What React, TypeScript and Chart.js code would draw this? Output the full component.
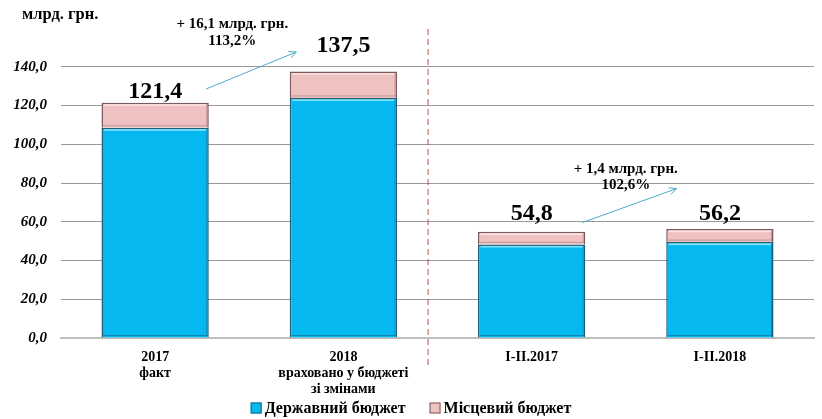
import React, { useEffect, useRef } from "react";
import { Chart, registerables } from "chart.js";

Chart.register(...registerables);

const categories: string[][] = [
  ["2017", "факт"],
  ["2018", "враховано у бюджеті", "зі змінами"],
  ["І-ІІ.2017"],
  ["І-ІІ.2018"],
];
const stateBudget = [108.5, 123.9, 48.3, 49.5];
const localBudget = [12.9, 13.6, 6.5, 6.7];
const seriesNames = ["Державний бюджет", "Місцевий бюджет"];
const seriesColors = ["#05B9F0", "#EFC1C0"];
const seriesBorders = ["#1D5F7C", "#7A5A5A"];
const seriesLight = ["rgba(150,232,255,0.9)", "rgba(255,232,232,0.9)"];
const seriesDark = ["rgba(20,90,125,0.5)", "rgba(140,100,100,0.45)"];
const unitLabel = "млрд. грн.";
const growthNotes = [
  ["+ 16,1 млрд. грн.", "113,2%"],
  ["+ 1,4 млрд. грн.", "102,6%"],
];

const SERIF = "'Liberation Serif', 'Times New Roman', serif";
const fmt = (v: number) => v.toFixed(1).replace(".", ",");

const bevel = {
  id: "bevel",
  afterDatasetsDraw(chart: any) {
    const { ctx } = chart;
    ctx.save();
    chart.data.datasets.forEach((_: any, di: number) => {
      const meta = chart.getDatasetMeta(di);
      meta.data.forEach((bar: any) => {
        const { x, y, base, width } = bar.getProps(["x", "y", "base", "width"], true);
        const l = x - width / 2 + 1.5;
        const r = x + width / 2 - 1.5;
        const t = Math.min(y, base) + 1.5;
        const b = Math.max(y, base) - 1.5;
        ctx.fillStyle = seriesLight[di];
        ctx.fillRect(l + 1, t, r - l - 2, 1.5);
        ctx.fillStyle = seriesDark[di];
        ctx.fillRect(r - 1, t, 1, b - t);
        ctx.fillRect(l, b - 1, r - l, 1);
      });
    });
    ctx.restore();
  },
};

const overlay = {
  id: "overlay",
  afterDatasetsDraw(chart: any) {
    const { ctx, scales } = chart;
    const x = scales.x;
    const y = scales.y;
    const area = chart.chartArea;
    ctx.save();

    // divider
    ctx.strokeStyle = "#C0504D";
    ctx.lineWidth = 1;
    ctx.setLineDash([6, 4]);
    const dx = x.getPixelForValue(1.45);
    ctx.beginPath();
    ctx.moveTo(dx, area.top + 1);
    ctx.lineTo(dx, area.bottom + 27);
    ctx.stroke();
    ctx.setLineDash([]);

    // totals
    const gaps = [5, 20, 12, 9];
    ctx.fillStyle = "#000";
    ctx.font = `bold 24px ${SERIF}`;
    ctx.textAlign = "center";
    ctx.textBaseline = "alphabetic";
    stateBudget.forEach((s, i) => {
      const total = s + localBudget[i];
      ctx.fillText(fmt(total), x.getPixelForValue(i), y.getPixelForValue(total) - gaps[i]);
    });

    // unit
    ctx.font = `bold 16.5px ${SERIF}`;
    ctx.textAlign = "left";
    ctx.textBaseline = "middle";
    ctx.fillText(unitLabel, 22, 15);

    // growth notes
    ctx.font = `bold 15px ${SERIF}`;
    ctx.textAlign = "center";
    const notePos = [
      [0.41, 161.8, 153.2],
      [2.5, 87.4, 78.7],
    ];
    growthNotes.forEach((n, k) => {
      const px = x.getPixelForValue(notePos[k][0]);
      ctx.fillText(n[0], px, y.getPixelForValue(notePos[k][1]));
      ctx.fillText(n[1], px, y.getPixelForValue(notePos[k][2]));
    });

    // arrows
    const arrows = [
      [0.27, 128.5, 0.75, 147.6],
      [2.27, 59.6, 2.77, 77.1],
    ];
    ctx.strokeStyle = "#4BACC6";
    ctx.lineWidth = 1;
    arrows.forEach((a) => {
      const x1 = x.getPixelForValue(a[0]);
      const y1 = y.getPixelForValue(a[1]);
      const x2 = x.getPixelForValue(a[2]);
      const y2 = y.getPixelForValue(a[3]);
      ctx.beginPath();
      ctx.moveTo(x1, y1);
      ctx.lineTo(x2, y2);
      const ang = Math.atan2(y2 - y1, x2 - x1);
      const L = 8;
      ctx.moveTo(x2 - L * Math.cos(ang - 0.45), y2 - L * Math.sin(ang - 0.45));
      ctx.lineTo(x2, y2);
      ctx.lineTo(x2 - L * Math.cos(ang + 0.45), y2 - L * Math.sin(ang + 0.45));
      ctx.stroke();
    });

    // legend
    ctx.font = `bold 16px ${SERIF}`;
    ctx.textAlign = "left";
    ctx.textBaseline = "middle";
    const box = 11;
    const gapBox = 3;
    const gapItem = 24;
    const widths = seriesNames.map((n) => box + gapBox + ctx.measureText(n).width);
    const total = widths[0] + widths[1] + gapItem;
    let lx = chart.width / 2 - total / 2;
    const ly = 408;
    seriesNames.forEach((n, i) => {
      ctx.fillStyle = seriesColors[i];
      ctx.fillRect(lx, ly - box / 2, box, box);
      ctx.strokeStyle = seriesBorders[i];
      ctx.lineWidth = 1;
      ctx.strokeRect(lx + 0.5, ly - box / 2 + 0.5, box - 1, box - 1);
      ctx.fillStyle = "#000";
      ctx.fillText(n, lx + box + gapBox, ly + 1);
      lx += widths[i] + gapItem;
    });
    ctx.restore();
  },
};

export default function App() {
  const ref = useRef<HTMLCanvasElement>(null);
  useEffect(() => {
    if (!ref.current) return;
    const chart = new Chart(ref.current, {
      type: "bar",
      data: {
        labels: categories as any,
        datasets: [
          {
            label: seriesNames[0],
            data: stateBudget,
            backgroundColor: seriesColors[0],
            borderColor: seriesBorders[0],
            borderWidth: 1.5,
          },
          {
            label: seriesNames[1],
            data: localBudget,
            backgroundColor: seriesColors[1],
            borderColor: seriesBorders[1],
            borderWidth: 1.5,
          },
        ],
      },
      plugins: [bevel, overlay],
      options: {
        animation: false,
        responsive: true,
        maintainAspectRatio: false,
        layout: { padding: { top: 28, right: 8, left: 0, bottom: 19 } },
        datasets: { bar: { categoryPercentage: 1, barPercentage: 0.57 } },
        plugins: {
          tooltip: { enabled: false },
          legend: { display: false },
        },
        scales: {
          x: {
            stacked: true,
            grid: { display: false },
            border: { display: true, color: "#BFBFBF", width: 2 },
            ticks: {
              color: "#000",
              padding: 4,
              maxRotation: 0,
              autoSkip: false,
              font: { family: SERIF, size: 14, weight: "bold", lineHeight: 1.12 },
            },
            afterFit: (s: any) => {
              s.height = 62;
            },
          },
          y: {
            stacked: true,
            min: 0,
            max: 160,
            border: { display: false },
            grid: {
              drawTicks: false,
              color: (c: any) =>
                c.tick && (c.tick.value === 160 || c.tick.value === 0) ? "rgba(0,0,0,0)" : "#999999",
              borderDash: [3, 3],
            } as any,
            ticks: {
              stepSize: 20,
              padding: 14,
              color: "#000",
              font: { family: SERIF, size: 15, weight: "bold", style: "italic" },
              callback: (v: any) => (v === 160 ? "" : fmt(Number(v))),
            },
            afterFit: (s: any) => {
              s.width = 61;
            },
          },
        },
      } as any,
    });
    return () => chart.destroy();
  }, []);
  return (
    <div style={{ position: "fixed", left: 0, top: 0, width: 822, height: 419, background: "#fff" }}>
      <canvas ref={ref} />
    </div>
  );
}
